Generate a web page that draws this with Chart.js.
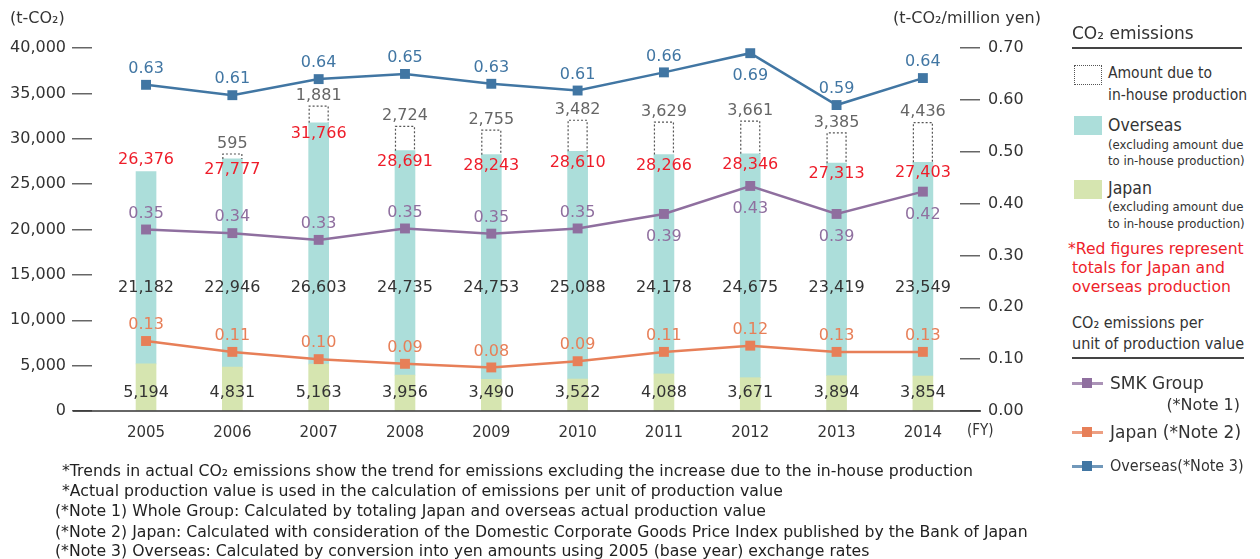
<!DOCTYPE html>
<html>
<head>
<meta charset="utf-8">
<script src="https://cdn.jsdelivr.net/npm/chart.js@4.4.1/dist/chart.umd.min.js"></script>
<style>
  body { margin: 0; background: #fff; width: 1260px; height: 559px; overflow: hidden; position: relative;
         font-family: "DejaVu Sans", sans-serif; color: #333; }
  #wrap { position: absolute; left: 0; top: 0; width: 1050px; height: 450px; }
  .t { position: absolute; white-space: nowrap; line-height: 20px; height: 20px; }
  .cond { font-family: "DejaVu Sans Condensed", "DejaVu Sans", sans-serif; font-stretch: condensed; }
  .hr { position: absolute; height: 1.5px; background: #444; }
  .sw { position: absolute; width: 28px; height: 19px; }
  .ico { position: absolute; width: 31px; height: 10px; }
  .ico .ln { position: absolute; left: 0; top: 3.5px; width: 31px; height: 3px; opacity: .75; }
  .ico .sq { position: absolute; left: 10px; top: 0; width: 10px; height: 10px; }
  .note { position: absolute; white-space: nowrap; font-size: 15.7px; line-height: 20px; color: #222; }
</style>
</head>
<body>
<div id="wrap"><canvas id="chart"></canvas></div>

<div class="t" style="left:10px;top:8px;font-size:16px;">(t-CO₂)</div>
<div class="t" style="right:219px;top:8px;font-size:16px;">(t-CO₂/million yen)</div>
<div class="t cond" style="left:967px;top:420px;font-size:15px;">(FY)</div>

<!-- legend -->
<div class="t" style="left:1072px;top:23px;font-size:17px;">CO₂ emissions</div>
<div class="hr" style="left:1072px;top:47px;width:170px;"></div>

<div style="position:absolute;left:1074px;top:65px;width:26px;height:18px;border:1.5px dotted #555;"></div>
<div class="t cond" style="left:1108px;top:63px;font-size:15.5px;">Amount due to</div>
<div class="t cond" style="left:1108px;top:85px;font-size:15.5px;">in-house production</div>

<div class="sw" style="left:1074px;top:116px;background:#acdeda;"></div>
<div class="t cond" style="left:1108px;top:115px;font-size:17.5px;">Overseas</div>
<div class="t cond" style="left:1108px;top:135px;font-size:13px;">(excluding amount due</div>
<div class="t cond" style="left:1108px;top:151px;font-size:13px;">to in-house production)</div>

<div class="sw" style="left:1074px;top:180px;background:#d6e5b0;"></div>
<div class="t cond" style="left:1108px;top:178px;font-size:17.5px;">Japan</div>
<div class="t cond" style="left:1108px;top:197px;font-size:13px;">(excluding amount due</div>
<div class="t cond" style="left:1108px;top:214px;font-size:13px;">to in-house production)</div>

<div class="t" style="left:1068px;top:239px;font-size:15.6px;color:#ee1d2a;">*Red figures represent</div>
<div class="t" style="left:1072px;top:258px;font-size:15.6px;color:#ee1d2a;">totals for Japan and</div>
<div class="t" style="left:1072px;top:277px;font-size:15.6px;color:#ee1d2a;">overseas production</div>

<div class="t cond" style="left:1072px;top:313px;font-size:16px;">CO₂ emissions per</div>
<div class="t cond" style="left:1072px;top:334px;font-size:16px;">unit of production value</div>
<div class="hr" style="left:1072px;top:357px;width:172px;"></div>

<div class="ico" style="left:1072px;top:378px;"><div class="ln" style="background:#8f6f9f"></div><div class="sq" style="background:#8f6f9f"></div></div>
<div class="t" style="left:1110px;top:373px;font-size:17px;">SMK Group</div>
<div class="t" style="right:20px;top:395px;font-size:16px;">(*Note 1)</div>

<div class="ico" style="left:1072px;top:427px;"><div class="ln" style="background:#e77f58"></div><div class="sq" style="background:#e77f58"></div></div>
<div class="t" style="left:1110px;top:422px;font-size:17px;">Japan (*Note 2)</div>

<div class="ico" style="left:1072px;top:461px;"><div class="ln" style="background:#4176a3"></div><div class="sq" style="background:#4176a3"></div></div>
<div class="t cond" style="left:1110px;top:456px;font-size:16px;">Overseas(*Note 3)</div>

<!-- notes -->
<div class="note" style="left:62px;top:461px;">*Trends in actual CO₂ emissions show the trend for emissions excluding the increase due to the in-house production</div>
<div class="note" style="left:62px;top:481px;">*Actual production value is used in the calculation of emissions per unit of production value</div>
<div class="note" style="left:55px;top:501px;">(*Note 1) Whole Group: Calculated by totaling Japan and overseas actual production value</div>
<div class="note" style="left:55px;top:522px;">(*Note 2) Japan: Calculated with consideration of the Domestic Corporate Goods Price Index published by the Bank of Japan</div>
<div class="note" style="left:55px;top:541px;">(*Note 3) Overseas: Calculated by conversion into yen amounts using 2005 (base year) exchange rates</div>

<script>
// fiscal years
const years = [2005, 2006, 2007, 2008, 2009, 2010, 2011, 2012, 2013, 2014];

// CO2 emissions (t-CO2)
const japan    = [5194, 4831, 5163, 3956, 3490, 3522, 4088, 3671, 3894, 3854];
const overseas = [21182, 22946, 26603, 24735, 24753, 25088, 24178, 24675, 23419, 23549];
const inHouse  = [0, 595, 1881, 2724, 2755, 3482, 3629, 3661, 3385, 4436];

// CO2 emissions per unit of production value (t-CO2/million yen)
// plotted marker values
const smkGroupUnit = [0.350, 0.343, 0.330, 0.352, 0.342, 0.352, 0.380, 0.434, 0.380, 0.423];
const japanUnit    = [0.135, 0.114, 0.100, 0.091, 0.084, 0.096, 0.114, 0.126, 0.114, 0.114];
const overseasUnit = [0.629, 0.609, 0.640, 0.650, 0.631, 0.618, 0.653, 0.690, 0.590, 0.642];

// printed figures next to the markers
const smkGroupLabels = ["0.35", "0.34", "0.33", "0.35", "0.35", "0.35", "0.39", "0.43", "0.39", "0.42"];
const japanLabels    = ["0.13", "0.11", "0.10", "0.09", "0.08", "0.09", "0.11", "0.12", "0.13", "0.13"];
const overseasLabels = ["0.63", "0.61", "0.64", "0.65", "0.63", "0.61", "0.66", "0.69", "0.59", "0.64"];

// which point labels sit under their marker
const labelsBelow = {
  smk: [2011, 2012, 2013, 2014],
  overseas: [2012]
};

const totals = japan.map((v, i) => v + overseas[i]);
const fmt = v => v.toLocaleString("en-US");
const toXY = arr => years.map((yr, i) => ({ x: yr, y: arr[i] }));

const FONT = '"DejaVu Sans", sans-serif';

// draws baseline, dashed in-house boxes and all value labels
const labelPlugin = {
  id: "valueLabels",
  afterDatasetsDraw(chart) {
    const ctx = chart.ctx;
    const area = chart.chartArea;
    const yS = chart.scales.y;
    const xS = chart.scales.x;
    ctx.save();

    // baseline
    ctx.strokeStyle = "#333";
    ctx.lineWidth = 1.5;
    ctx.beginPath();
    ctx.moveTo(area.left - 19, yS.getPixelForValue(0));
    ctx.lineTo(area.right + 21, yS.getPixelForValue(0));
    ctx.stroke();

    // in-house dashed boxes
    ctx.strokeStyle = "#555";
    ctx.lineWidth = 1.2;
    ctx.setLineDash([2, 2]);
    chart.getDatasetMeta(2).data.forEach((bar, i) => {
      if (!inHouse[i]) return;
      const p = bar.getProps(["x", "y", "base", "width"], true);
      const l = p.x - p.width / 2 + 0.5, r = p.x + p.width / 2 - 0.5;
      ctx.beginPath();
      ctx.moveTo(l, p.base);
      ctx.lineTo(l, p.y + 0.5);
      ctx.lineTo(r, p.y + 0.5);
      ctx.lineTo(r, p.base);
      ctx.stroke();
    });
    ctx.setLineDash([]);

    ctx.textAlign = "center";
    ctx.textBaseline = "middle";
    ctx.font = "16px " + FONT;

    years.forEach((yr, i) => {
      const px = xS.getPixelForValue(yr);
      // value inside bars
      ctx.fillStyle = "#333";
      ctx.fillText(fmt(overseas[i]), px, yS.getPixelForValue(13600));
      ctx.fillText(fmt(japan[i]), px, yS.getPixelForValue(1950));
      // totals
      ctx.fillStyle = "#ee1d2a";
      const top = yS.getPixelForValue(totals[i]);
      ctx.fillText(fmt(totals[i]), px, inHouse[i] ? top + 11 : top - 12);
      // in-house
      if (inHouse[i]) {
        ctx.fillStyle = "#666";
        ctx.fillText(fmt(inHouse[i]), px, yS.getPixelForValue(totals[i] + inHouse[i]) - 10);
      }
    });

    // line labels
    const lineSets = [
      { idx: 3, text: smkGroupLabels, color: "#8f6f9f", below: labelsBelow.smk },
      { idx: 4, text: japanLabels, color: "#e77f58", below: [] },
      { idx: 5, text: overseasLabels, color: "#4176a3", below: labelsBelow.overseas }
    ];
    lineSets.forEach(s => {
      ctx.fillStyle = s.color;
      chart.getDatasetMeta(s.idx).data.forEach((pt, i) => {
        const under = s.below.includes(years[i]);
        ctx.fillText(s.text[i], pt.x, under ? pt.y + 23 : pt.y - 16);
      });
    });

    ctx.restore();
  }
};

const lineDs = (label, arr, color) => ({
  type: "line",
  label,
  data: toXY(arr),
  yAxisID: "y1",
  borderColor: color,
  backgroundColor: color,
  borderWidth: 2.5,
  pointStyle: "rect",
  pointRadius: 7,
  pointHoverRadius: 7,
  pointBorderWidth: 0,
  tension: 0,
  order: 1
});

new Chart(document.getElementById("chart"), {
  type: "bar",
  data: {
    datasets: [
      { label: "Japan", data: toXY(japan), backgroundColor: "#d6e5b0", barThickness: 20, stack: "s", order: 2 },
      { label: "Overseas", data: toXY(overseas), backgroundColor: "#acdeda", barThickness: 20, stack: "s", order: 2 },
      { label: "In-house", data: toXY(inHouse), backgroundColor: "rgba(0,0,0,0)", barThickness: 20, stack: "s", order: 2 },
      lineDs("SMK Group", smkGroupUnit, "#8f6f9f"),
      lineDs("Japan unit", japanUnit, "#e77f58"),
      lineDs("Overseas unit", overseasUnit, "#4176a3")
    ]
  },
  options: {
    responsive: true,
    maintainAspectRatio: false,
    animation: false,
    layout: { padding: { top: 48, left: 0, right: 0, bottom: 0 } },
    plugins: { legend: { display: false }, tooltip: { enabled: false } },
    scales: {
      x: {
        type: "linear",
        offset: false,
        stacked: true,
        min: 2004.374,
        max: 2014.43,
        grid: { display: false },
        border: { display: false },
        ticks: {
          stepSize: 1,
          includeBounds: false,
          autoSkip: false,
          maxRotation: 0,
          padding: 5,
          color: "#333",
          font: { family: FONT, size: 15 },
          callback: v => String(v)
        },
        afterFit: s => { s.height = 39; }
      },
      y: {
        position: "left",
        stacked: true,
        min: 0,
        max: 40000,
        grid: { drawOnChartArea: false, drawTicks: true, tickLength: 20, color: "#666", lineWidth: 1.5 },
        border: { display: false },
        ticks: {
          stepSize: 5000,
          padding: 6,
          color: "#333",
          font: { family: FONT, size: 16 },
          callback: v => fmt(v)
        },
        afterFit: s => { s.width = 92; }
      },
      y1: {
        position: "right",
        min: 0,
        max: 0.7,
        grid: { drawOnChartArea: false, drawTicks: true, tickLength: 20, color: "#666", lineWidth: 1.5 },
        border: { display: false },
        ticks: {
          stepSize: 0.1,
          padding: 8,
          color: "#333",
          font: { family: FONT, size: 16 },
          callback: v => v.toFixed(2)
        },
        afterFit: s => { s.width = 90; }
      }
    }
  },
  plugins: [labelPlugin]
});
</script>
</body>
</html>
